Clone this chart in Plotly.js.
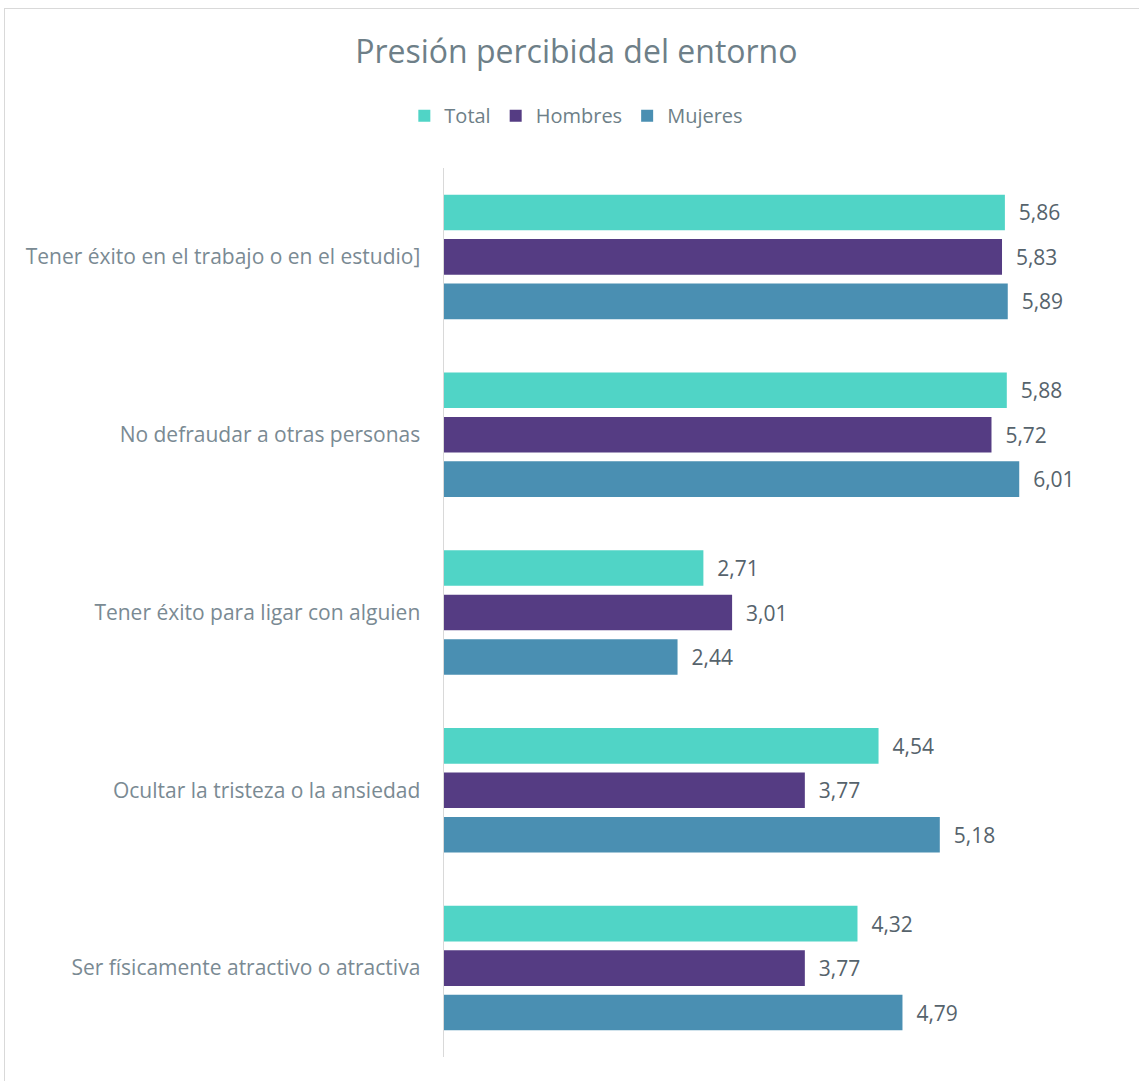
<!DOCTYPE html>
<html>
<head>
<meta charset="utf-8">
<script src="https://cdn.plot.ly/plotly-3.0.1.min.js"></script>
<style>
html,body{margin:0;padding:0;background:#fff;}
#frame{position:absolute;left:4px;top:8px;width:1160px;height:1100px;border:1px solid #d9d9d9;box-sizing:border-box;}
#chart{position:absolute;left:0;top:0;width:1139px;height:1081px;}
</style>
</head>
<body>
<div id="frame"></div>
<div id="chart"></div>
<script>
const categories = [
  "Tener éxito en el trabajo o en el estudio]",
  "No defraudar a otras personas",
  "Tener éxito para ligar con alguien",
  "Ocultar la tristeza o la ansiedad",
  "Ser físicamente atractivo o atractiva"
];
const totalValues   = [5.86, 5.88, 2.71, 4.54, 4.32];
const hombresValues = [5.83, 5.72, 3.01, 3.77, 3.77];
const mujeresValues = [5.89, 6.01, 2.44, 5.18, 4.79];
const seriesNames = ["Total", "Hombres", "Mujeres"];
const seriesColors = ["#50D4C6", "#553C83", "#4A8FB2"];
const seriesValues = [totalValues, hombresValues, mujeresValues];

const traces = seriesValues.map((vals, i) => ({
  type: 'bar',
  orientation: 'h',
  name: seriesNames[i],
  y: categories,
  x: vals,
  marker: {color: seriesColors[i]},
  text: vals.map(v => v.toFixed(2).replace('.', ',')),
  texttemplate: '  %{text}',
  textposition: 'outside',
  cliponaxis: false,
  textfont: {family: 'Open Sans', size: 21, color: '#56636C'},
  hoverinfo: 'x+name'
}));

const layout = {
  width: 1139,
  height: 1081,
  paper_bgcolor: 'rgba(0,0,0,0)',
  plot_bgcolor: 'rgba(0,0,0,0)',
  margin: {l: 444, r: 25, t: 168, b: 24},
  title: {
    text: 'Presión percibida del entorno',
    font: {family: 'Open Sans', size: 32, color: '#6E7F88'},
    x: 0.506, xanchor: 'center',
    y: 0.952, yanchor: 'middle'
  },
  barmode: 'group',
  bargap: 0.25,
  bargroupgap: 0.2,
  showlegend: true,
  legend: {
    orientation: 'h',
    x: 0.506, xanchor: 'center',
    xref: 'container',
    y: 0.893, yanchor: 'middle',
    yref: 'container',
    font: {family: 'Open Sans', size: 20, color: '#6E7F88'},
    itemwidth: 30,
    traceorder: 'normal'
  },
  xaxis: {
    range: [0, 7],
    visible: false,
    showgrid: false,
    zeroline: false
  },
  yaxis: {
    autorange: 'reversed',
    showline: true,
    linecolor: '#d9d9d9',
    linewidth: 1.5,
    ticks: '',
    ticklabelstandoff: 18,
    tickfont: {family: 'Open Sans', size: 21, color: '#7A8A93'},
    showgrid: false,
    zeroline: false
  },
  separators: ', '
};

Plotly.newPlot('chart', traces, layout, {displayModeBar: false, staticPlot: true});
</script>
</body>
</html>
